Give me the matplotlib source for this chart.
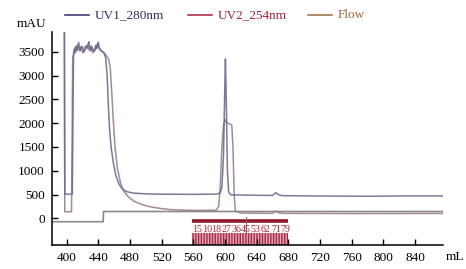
import matplotlib
matplotlib.use("Agg")
import matplotlib.pyplot as plt
from matplotlib.lines import Line2D
from matplotlib.patches import Rectangle

plt.rcParams['font.family'] = ['Liberation Serif', 'DejaVu Serif']

# UV1 280 nm trace (mL, mAU)
uv1_ml = [397, 397.5, 407, 408.5, 410, 411, 412, 413, 414, 415, 416, 417, 418, 420, 421, 423,
          424, 426, 427, 428, 429, 430, 431, 433, 434, 436, 437, 438, 439, 440, 441, 442,
          443, 445, 447, 449, 451, 452.5, 454, 456, 459, 462, 466, 470, 476,
          485, 500, 520, 560, 590, 594, 596, 598, 599.5, 600.5, 601.5, 603, 604.5, 607,
          640, 660, 664, 667, 672, 720, 780, 830, 875]
uv1_mau = [3920, 510, 510, 3400, 3560, 3500, 3620, 3540, 3600, 3690, 3560, 3520, 3610, 3600, 3500, 3540,
           3620, 3600, 3650, 3710, 3580, 3540, 3620, 3560, 3500, 3540, 3620, 3600, 3660, 3700, 3580, 3550,
           3520, 3500, 3470, 3380, 3000, 2400, 1900, 1500, 1150, 900, 720, 620, 560,
           530, 515, 508, 505, 510, 540, 650, 1300, 2600, 3350, 2500, 1000, 560, 495,
           485, 482, 540, 500, 478, 470, 465, 472, 472]

# UV2 254 nm trace (mL, mAU)
uv2_ml = [397, 397.5, 406, 407.5, 409, 410, 411, 412, 413, 414, 415, 416, 418, 419, 420, 422,
          423, 425, 426, 427, 428, 429, 430, 432, 433, 435, 436, 437, 438, 439, 440, 441,
          444, 447, 450, 453, 455, 457, 459, 461, 464, 468, 472, 478,
          485, 495, 505, 518, 531, 550, 575, 589, 592, 594, 596, 598, 600, 602, 605,
          608.5, 610, 611.5, 613, 620, 660, 664, 668, 675, 760, 875]
uv2_mau = [3920, 140, 140, 3350, 3520, 3580, 3480, 3600, 3530, 3650, 3580, 3520, 3560, 3600, 3480, 3500,
           3580, 3620, 3560, 3660, 3540, 3600, 3510, 3570, 3480, 3540, 3600, 3640, 3560, 3660, 3600, 3580,
           3520, 3480, 3420, 3340, 3150, 2600, 2000, 1500, 1050, 740, 570, 450,
           360, 290, 245, 210, 185, 172, 168, 175, 260, 700, 1500, 1950, 2080, 2010, 1990,
           1960, 1500, 500, 150, 112, 106, 150, 118, 106, 102, 104]

# Flow trace
flow_ml = [381, 446, 446.5, 875]
flow_val = [-70, -70, 145, 145]

# Fraction labels
frac_labels = ['1', '5', '10', '18', '27', '36', '45', '53', '62', '71', '79']
frac_pos = [558, 564.2, 570.4, 582.8, 595.2, 607.6, 620, 632.4, 644.8, 658.5, 670.5]
frac_start, frac_end = 558, 680
inject_ml = 626

xticks = [400, 440, 480, 520, 560, 600, 640, 680, 720, 760, 800, 840]
yticks = [0, 500, 1000, 1500, 2000, 2500, 3000, 3500]

legend_labels = ['UV1_280nm', 'UV2_254nm', 'Flow']
legend_colors = ['#2e2e6e', '#a3203c', '#a0683a']

fig = plt.figure(figsize=(4.66, 2.69), dpi=100)
ax = fig.add_axes([0.111, 0.089, 0.839, 0.793])

ax.plot(flow_ml, flow_val, color='#8c8888', lw=1.2)
ax.plot(uv2_ml, uv2_mau, color='#9a7f8c', lw=1.1, alpha=0.9)
ax.plot(uv1_ml, uv1_mau, color='#6f6a8e', lw=1.1, alpha=0.9)

# fraction region
ax.add_patch(Rectangle((frac_start, -560), frac_end - frac_start, 250,
                       facecolor='#e0a8b4', edgecolor='#a82a44', hatch='||||||', lw=0))
ax.plot([frac_start, frac_end], [-50, -50], color='#8e1a2c', lw=2.6, solid_capstyle='butt')
ax.plot([inject_ml, inject_ml], [20, -300], color='#8a6070', lw=0.8)
for lab, pos in zip(frac_labels, frac_pos):
    ax.text(pos, -235, lab, color='#b02838', fontsize=7.2, ha='left', va='center')

ax.set_xlim(381, 875)
ax.set_ylim(-560, 3920)
ax.set_xticks(xticks)
ax.set_yticks(yticks)
ax.tick_params(direction='in', labelsize=9.5, length=4, width=1, pad=5)
ax.spines['top'].set_visible(False)
ax.spines['right'].set_visible(False)
ax.spines['left'].set_linewidth(1.1)
ax.spines['bottom'].set_linewidth(1.1)

fig.text(0.036, 0.91, 'mAU', fontsize=9.5, va='center', ha='left')
fig.text(0.957, 0.046, 'mL', fontsize=9.5, va='center', ha='left')

# legend
leg_x = [0.139, 0.403, 0.661]
for lab, col, x0 in zip(legend_labels, legend_colors, leg_x):
    fig.add_artist(Line2D([x0, x0 + 0.052], [0.944, 0.944], color=col, lw=1.1,
                          transform=fig.transFigure))
    fig.text(x0 + 0.064, 0.944, lab, color=col, fontsize=9.5, va='center', ha='left')

fig.savefig('out.png', dpi=100)
